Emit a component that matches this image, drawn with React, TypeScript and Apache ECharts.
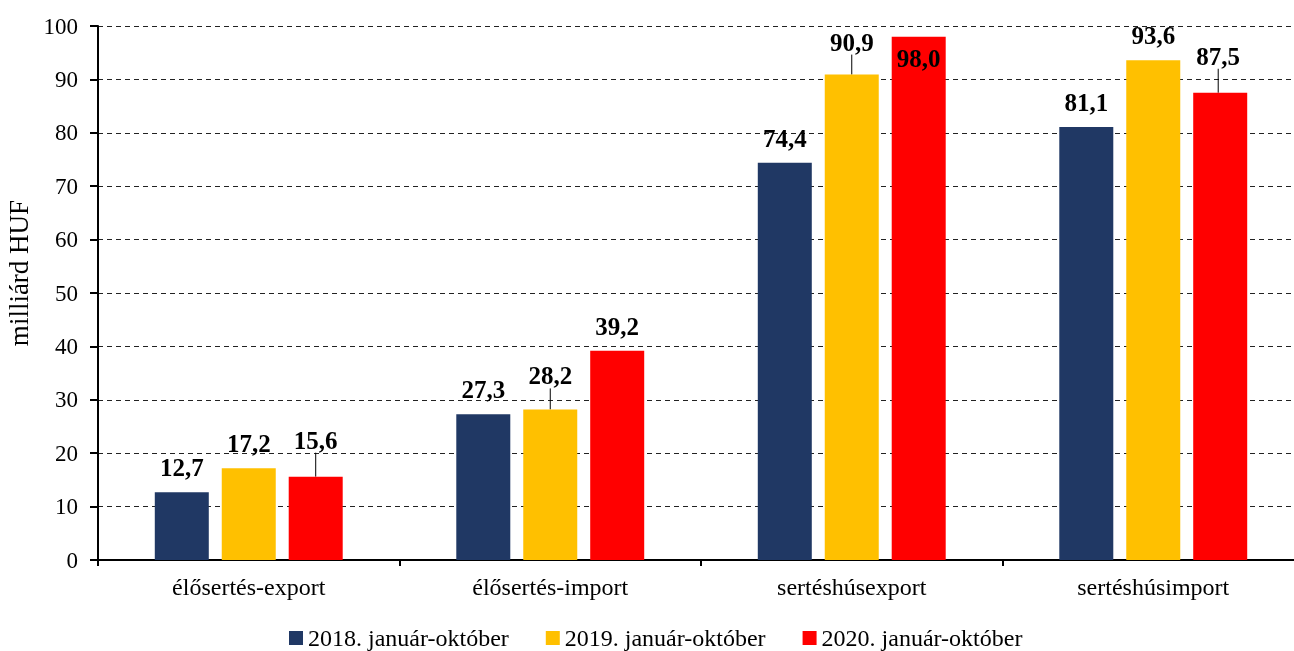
import React, { useEffect, useRef } from "react";
import * as echarts from "echarts";

const categories = ["élősertés-export", "élősertés-import", "sertéshúsexport", "sertéshúsimport"];
const seriesNames = ["2018. január-október", "2019. január-október", "2020. január-október"];
const values2018 = [12.7, 27.3, 74.4, 81.1];
const values2019 = [17.2, 28.2, 90.9, 93.6];
const values2020 = [15.6, 39.2, 98.0, 87.5];
const yTicks = { min: 0, max: 100, interval: 10 };

const colors = ["#203864", "#FFC000", "#FF0000"];
const FONT = '"Liberation Serif", "Times New Roman", serif';

// label nudges (styling): key "series-index"
const labelShift: Record<string, { dx: number; dy: number }> = {
  "1-1": { dx: 0, dy: -9 },
  "1-2": { dx: 0, dy: -8 },
  "2-0": { dx: 0, dy: -12 },
  "2-3": { dx: -2, dy: -12 },
};

const fmt = (v: number) => v.toFixed(1).replace(".", ",");

export default function App() {
  const ref = useRef<HTMLDivElement>(null);
  useEffect(() => {
    if (!ref.current) return;
    const chart = echarts.init(ref.current, null, { renderer: "svg" });
    const all = [values2018, values2019, values2020];
    const series = all.map((vals, si) => ({
      type: "bar",
      name: seriesNames[si],
      data: vals.map((v, i) => {
        const item: any = { value: v };
        if (si === 2 && i === 2) {
          item.label = { position: "insideTop", distance: 9 };
        }
        if (labelShift[`${si}-${i}`]) {
          item.labelLine = { show: true, lineStyle: { color: "#000", width: 1 } };
        }
        return item;
      }),
      barWidth: 54,
      barGap: "24%",
      itemStyle: { color: colors[si] },
      label: {
        show: true,
        position: "top",
        distance: 12,
        formatter: (p: any) => fmt(p.value),
        fontFamily: FONT,
        fontWeight: "bold",
        fontSize: 25,
        color: "#000",
      },
      labelLine: { show: false },
      labelLayout: (p: any) => {
        const s = labelShift[`${si}-${p.dataIndex}`];
        return s ? { dx: s.dx, dy: s.dy } : {};
      },
    }));

    chart.setOption({
      animation: false,
      grid: { left: 98, right: 16, top: 26, bottom: 91 },
      legend: {
        left: 284,
        top: 621,
        itemWidth: 14,
        itemHeight: 14,
        itemGap: 37,
        icon: "rect",
        textStyle: { fontFamily: FONT, fontSize: 24, color: "#000" },
        data: seriesNames,
      },
      xAxis: {
        type: "category",
        data: categories,
        axisLine: { lineStyle: { color: "#000", width: 2 } },
        axisTick: { show: true, length: 6, lineStyle: { color: "#000", width: 2 } },
        axisLabel: { fontFamily: FONT, fontSize: 24, color: "#000", margin: 15 },
      },
      yAxis: {
        type: "value",
        min: yTicks.min,
        max: yTicks.max,
        interval: yTicks.interval,
        axisLine: { show: true, lineStyle: { color: "#000", width: 2 } },
        axisTick: { show: true, length: 8, lineStyle: { color: "#000", width: 2 } },
        axisLabel: { fontFamily: FONT, fontSize: 23, color: "#000", margin: 20 },
        splitLine: { lineStyle: { color: "#222", width: 1, type: [5, 4] } },
      },
      graphic: [
        {
          type: "text",
          x: 19,
          y: 273,
          rotation: Math.PI / 2,
          style: {
            text: "milliárd HUF",
            fontFamily: FONT,
            fontSize: 27,
            fill: "#000",
            align: "center",
            verticalAlign: "middle",
          },
        },
      ],
      series,
    });
    return () => chart.dispose();
  }, []);
  return (
    <div
      ref={ref}
      style={{ position: "fixed", left: 0, top: 0, width: 1320, height: 651 }}
    />
  );
}
